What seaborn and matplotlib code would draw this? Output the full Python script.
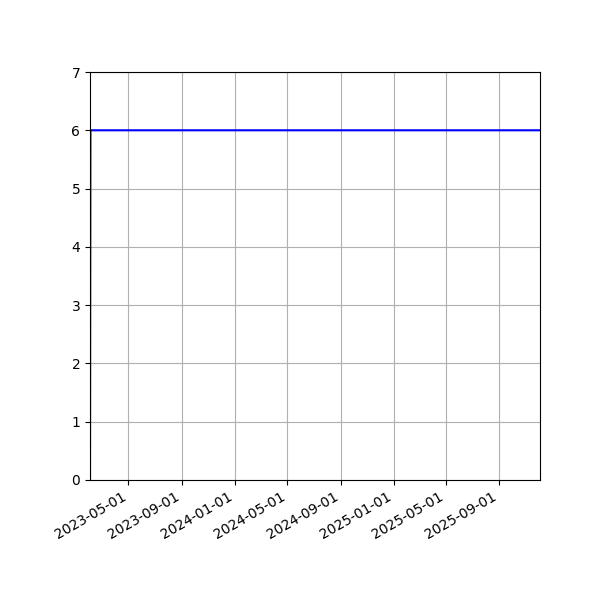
import matplotlib
matplotlib.use("Agg")
import matplotlib.pyplot as plt
import matplotlib.dates as mdates
import seaborn as sns
import pandas as pd

dates = ["2023-02-02", "2023-02-03", "2025-12-04"]
values = [0, 6, 6]

df = pd.DataFrame({"date": pd.to_datetime(dates), "value": values})

fig, ax = plt.subplots(figsize=(6, 6), dpi=100)
fig.subplots_adjust(left=0.15, right=0.9, top=0.88, bottom=0.2)
sns.lineplot(data=df, x="date", y="value", ax=ax, color="blue", linewidth=1.5)
ax.set_xlim(df["date"].min(), df["date"].max())
ax.set_ylim(0, 7)
ax.set_xlabel("")
ax.set_ylabel("")
ax.grid(True)
ax.xaxis.set_major_locator(mdates.MonthLocator(bymonth=[1, 5, 9]))
ax.xaxis.set_major_formatter(mdates.DateFormatter("%Y-%m-%d"))
for lbl in ax.get_xticklabels():
    lbl.set_rotation(30)
    lbl.set_ha("right")
fig.savefig("out.png", dpi=100)
